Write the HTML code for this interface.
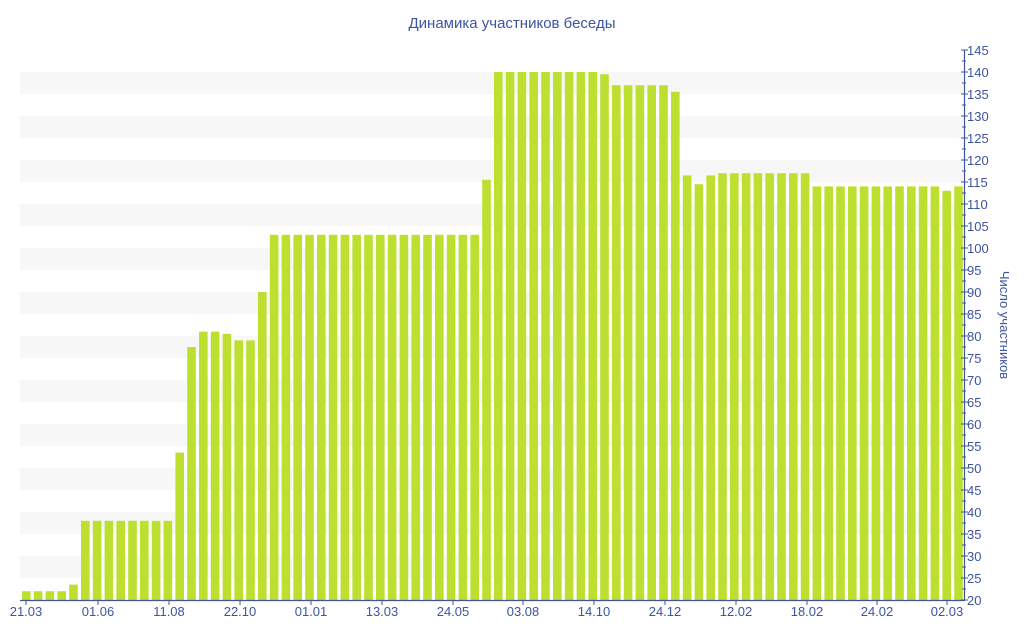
<!DOCTYPE html>
<html><head><meta charset="utf-8"><style>
html,body{margin:0;padding:0;background:#fff;}
svg{display:block;font-family:"Liberation Sans","DejaVu Sans",sans-serif;}
</style></head><body>
<svg id="c" width="1024" height="640" xmlns="http://www.w3.org/2000/svg">
<text x="512" y="28" text-anchor="middle" font-size="15" fill="#3d54a0">Динамика участников беседы</text>
<g id="bands"></g><g id="bars"></g><g id="axes"></g>
<text transform="translate(1000,325) rotate(90)" text-anchor="middle" font-size="13" fill="#3d54a0">Число участников</text>
</svg>
<script>
var ns="http://www.w3.org/2000/svg";
function Y(v){return 600-(v-20)*4.4;}
function el(p,t,a,txt){var e=document.createElementNS(ns,t);for(var k in a)e.setAttribute(k,a[k]);if(txt)e.textContent=txt;document.getElementById(p).appendChild(e);}
for(var v=25;v<140;v+=10){el("bands","rect",{x:20,y:Y(v+5),width:943,height:22,fill:"#f7f7f7"});}
var vals=[22,22,22,22,23.5];
for(var i=0;i<8;i++)vals.push(38);
vals.push(53.5,77.5,81,81,80.5,79,79,90);
for(i=0;i<18;i++)vals.push(103);
vals.push(115.5);
for(i=0;i<9;i++)vals.push(140);
vals.push(139.5);
for(i=0;i<5;i++)vals.push(137);
vals.push(135.5,116.5,114.5,116.5);
for(i=0;i<8;i++)vals.push(117);
for(i=0;i<11;i++)vals.push(114);
vals.push(113,114);
vals.forEach(function(v,k){var x=22+k*11.8;el("bars","rect",{x:x.toFixed(1),y:Y(v),width:8.6,height:600-Y(v),fill:"#bde030"});});
var ac="#3d54a0";
el("axes","line",{x1:20,y1:600.5,x2:964,y2:600.5,stroke:ac,"stroke-width":1.2});
el("axes","line",{x1:964.5,y1:50,x2:964.5,y2:601,stroke:ac,"stroke-width":1.2});
for(v=20;v<=145;v+=2.5){var y=Y(v);var major=(v%5==0);el("axes","line",{x1:major?961:962,y1:y,x2:major?968:966,y2:y,stroke:ac,"stroke-width":1});
if(major)el("axes","text",{x:967,y:y+5,"font-size":13,fill:ac},String(v));}
var labs=[["21.03",24],["01.06",96],["11.08",167],["22.10",238],["01.01",309],["13.03",380],["24.05",451],["03.08",521],["14.10",592],["24.12",663],["12.02",734],["18.02",805],["24.02",875],["02.03",945]];
labs.forEach(function(l){el("axes","line",{x1:l[1]+2,y1:601,x2:l[1]+2,y2:605,stroke:ac});el("axes","text",{x:l[1]+2,y:616,"text-anchor":"middle","font-size":13,fill:ac},l[0]);});
</script>
</body></html>
